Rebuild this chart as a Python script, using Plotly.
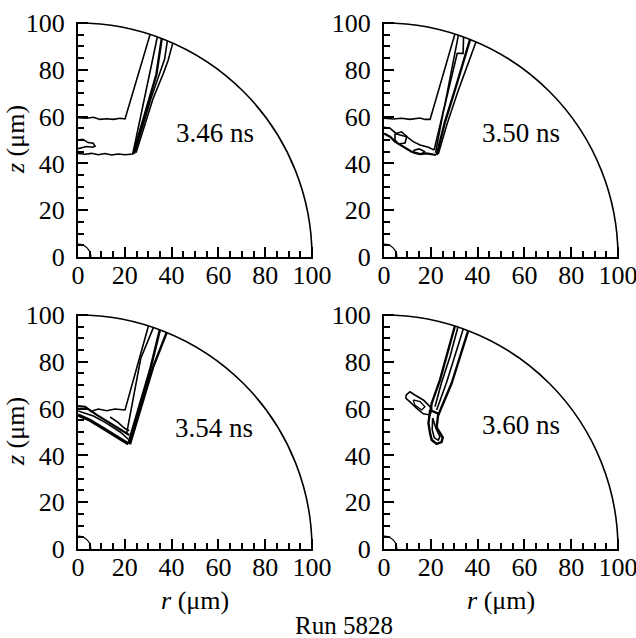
import plotly.graph_objects as go

W, H = 636, 638

# ---------------- data ----------------
tick_vals = [0, 20, 40, 60, 80, 100]
tick_text = ["0", "20", "40", "60", "80", "100"]

panel_times = ["3.46 ns", "3.50 ns", "3.54 ns", "3.60 ns"]
label_r = [58.4, 58.4, 58.3, 58.4]
label_z = [53.0, 52.8, 51.6, 53.0]

boundary_radius = 100
core_radius = 5.5

# 3.46 ns contours (r, z in um)
t346_upper_r = [0, 3.6, 6.6, 9.4, 12.3, 15.1, 17.9, 20.1, 30.8]
t346_upper_z = [59.5, 59.3, 59.7, 58.8, 59.1, 58.8, 59.3, 59.0, 95.1]
t346_lower_r = [0, 3.0, 5.8, 8.7, 11.5, 14.4, 17.2, 20.1, 23.4, 33.9]
t346_lower_z = [44.3, 43.9, 44.3, 43.7, 44.2, 43.6, 44.0, 43.7, 44.0, 94.0]
t346_band_b_r = [23.6, 30.8, 33.5, 35.8]
t346_band_b_z = [44.0, 68.2, 78.0, 93.4]
t346_band_c_r = [24.2, 31.4, 34.2, 35.5, 37.0, 38.2]
t346_band_c_z = [44.2, 68.5, 76.5, 80.5, 84.5, 92.5]
t346_band_d_r = [24.8, 32.2, 36.5, 38.5, 40.5]
t346_band_d_z = [44.6, 68.0, 78.5, 84.0, 91.4]
t346_blob_r = [0, 2.1, 4.3, 6.5, 7.3, 6.3, 3.7, 1.6, 0]
t346_blob_z = [50.0, 50.3, 48.9, 48.6, 47.4, 46.9, 47.2, 46.5, 46.3]

# 3.50 ns contours
t350_upper_r = [0, 4.0, 7.5, 11.1, 15.4, 17.5, 19.7, 30.3]
t350_upper_z = [59.3, 59.0, 59.3, 58.8, 59.4, 58.8, 58.8, 95.3]
t350_band_a_r = [21.4, 26.0, 31.8]
t350_band_a_z = [45.7, 65.0, 94.8]
t350_band_b_r = [22.0, 25.3, 31.3, 33.8, 34.0]
t350_band_b_z = [44.5, 61.8, 87.0, 87.0, 94.0]
t350_band_c_r = [22.5, 26.0, 30.5, 33.5, 36.8]
t350_band_c_z = [43.6, 57.5, 72.0, 82.0, 93.0]
t350_band_d_r = [23.2, 27.0, 31.5, 35.5, 39.3]
t350_band_d_z = [44.0, 57.0, 70.5, 81.5, 91.9]
t350_lower_a_r = [0, 2.6, 5.4, 9.7, 12.5, 15.4, 19.0, 21.4]
t350_lower_a_z = [55.4, 55.0, 52.6, 51.4, 49.3, 47.9, 46.9, 45.7]
t350_lower_b_r = [0, 2.6, 4.7, 8.3, 11.8, 15.4, 18.2, 22.2]
t350_lower_b_z = [52.8, 51.4, 49.3, 47.2, 45.0, 44.0, 44.3, 43.6]
t350_loop_r = [4.7, 7.5, 9.7, 9.0, 6.1, 4.7, 4.7]
t350_loop_z = [52.7, 53.5, 51.6, 48.7, 48.3, 50.1, 52.7]
t350_small_loop_r = [12.5, 15.0, 17.5, 16.0, 13.0, 12.5]
t350_small_loop_z = [45.5, 46.2, 45.0, 44.0, 44.3, 45.5]

# 3.54 ns contours
t354_upper_r = [5.1, 8.7, 12.3, 15.8, 20.1, 30.1]
t354_upper_z = [58.7, 59.8, 59.1, 59.8, 59.4, 95.3]
t354_th1_r = [0, 3.0, 8.0, 13.7, 19.4, 21.9]
t354_th1_z = [61.1, 60.8, 57.3, 53.7, 50.1, 48.7]
t354_th2_r = [0, 5.0, 10.8, 16.5, 21.5]
t354_th2_z = [57.3, 55.1, 51.6, 48.0, 44.9]
t354_th3_r = [0, 6.6, 12.3, 18.0, 21.5]
t354_th3_z = [59.0, 56.8, 53.7, 50.0, 46.9]
t354_inner_r = [13.7, 17.1, 19.9, 21.9]
t354_inner_z = [56.4, 54.1, 51.6, 50.5]
t354_b2_r = [20.8, 26.8, 32.2]
t354_b2_z = [49.4, 81.4, 94.6]
t354_b3_r = [21.5, 30.8, 35.0]
t354_b3_z = [44.9, 76.5, 93.7]
t354_b4_r = [22.2, 32.2, 37.9]
t354_b4_z = [44.7, 78.0, 92.5]

# 3.60 ns contours
t360_d1_r = [30.3, 26.8, 23.9, 20.4, 19.7]
t360_d1_z = [95.3, 82.2, 72.2, 62.3, 58.0]
t360_d2_r = [31.6, 28.2, 24.5, 21.8]
t360_d2_z = [94.9, 82.2, 70.8, 60.8]
t360_d3_r = [33.9, 30.3, 26.8, 22.5]
t360_d3_z = [94.1, 82.9, 71.4, 59.4]
t360_d4_r = [36.0, 32.5, 28.9, 23.2]
t360_d4_z = [93.3, 82.2, 70.8, 57.3]
t360_blob_r = [19.7, 19.0, 19.7, 20.4, 22.5, 24.6, 25.1, 22.5, 23.2, 19.7]
t360_blob_z = [59.4, 53.7, 49.4, 46.6, 44.9, 45.7, 47.7, 52.0, 57.8, 59.4]
t360_blob_inner_r = [20.8, 20.6, 21.5, 23.2, 23.9, 22.2, 20.8]
t360_blob_inner_z = [56.0, 51.0, 47.5, 46.5, 48.0, 51.5, 56.0]
t360_loop_r = [9.4, 11.1, 13.2, 16.8, 20.4, 19.7, 16.8, 14.0, 11.1, 9.4, 9.4]
t360_loop_z = [65.8, 67.2, 65.8, 63.7, 60.1, 57.3, 57.8, 60.1, 62.9, 64.4, 65.8]
t360_loop_inner_r = [12.5, 15.4, 17.5, 16.1, 13.2, 12.5]
t360_loop_inner_z = [63.7, 63.0, 60.8, 59.4, 61.5, 63.7]

panels = [
    [(t346_upper_r, t346_upper_z, 1.6), (t346_lower_r, t346_lower_z, 1.6),
     (t346_band_b_r, t346_band_b_z, 2.4), (t346_band_c_r, t346_band_c_z, 1.6),
     (t346_band_d_r, t346_band_d_z, 1.6), (t346_blob_r, t346_blob_z, 1.6)],
    [(t350_upper_r, t350_upper_z, 1.6), (t350_band_a_r, t350_band_a_z, 1.6),
     (t350_band_b_r, t350_band_b_z, 1.6), (t350_band_c_r, t350_band_c_z, 2.4),
     (t350_band_d_r, t350_band_d_z, 1.6), (t350_lower_a_r, t350_lower_a_z, 1.6),
     (t350_lower_b_r, t350_lower_b_z, 2.2), (t350_loop_r, t350_loop_z, 1.6),
     (t350_small_loop_r, t350_small_loop_z, 1.6)],
    [(t354_upper_r, t354_upper_z, 1.6), (t354_th1_r, t354_th1_z, 2.2),
     (t354_th2_r, t354_th2_z, 3.2), (t354_th3_r, t354_th3_z, 1.6),
     (t354_inner_r, t354_inner_z, 1.6), (t354_b2_r, t354_b2_z, 1.6),
     (t354_b3_r, t354_b3_z, 2.6), (t354_b4_r, t354_b4_z, 2.4)],
    [(t360_d1_r, t360_d1_z, 2.4), (t360_d2_r, t360_d2_z, 1.6),
     (t360_d3_r, t360_d3_z, 1.6), (t360_d4_r, t360_d4_z, 2.4),
     (t360_blob_r, t360_blob_z, 2.4), (t360_blob_inner_r, t360_blob_inner_z, 1.6),
     (t360_loop_r, t360_loop_z, 1.6), (t360_loop_inner_r, t360_loop_inner_z, 1.3)],
]

# ---------------- figure ----------------
FONT = "Liberation Serif, Times New Roman, serif"
fig = go.Figure()

axis_ids = [("x", "y"), ("x2", "y2"), ("x3", "y3"), ("x4", "y4")]
for (xa, ya), lines in zip(axis_ids, panels):
    for r, z, w in lines:
        fig.add_trace(go.Scatter(x=r, y=z, mode="lines", xaxis=xa, yaxis=ya,
                                 line=dict(color="black", width=w),
                                 showlegend=False, hoverinfo="skip"))

RMAX = 100.6
xdom_left = [78 / W, (78 + 2.34 * RMAX) / W]
xdom_right = [384 / W, (384 + 2.34 * RMAX) / W]
ydom_top = [(H - 257) / H, (H - 257 + 2.34 * RMAX) / H]
ydom_bot = [(H - 549) / H, (H - 549 + 2.34 * RMAX) / H]


def ax(domain, anchor, standoff):
    return dict(domain=domain, anchor=anchor, range=[0, RMAX],
                automargin=False, ticklabeloverflow="allow",
                showline=True, linecolor="black", linewidth=2, mirror=False,
                showgrid=False, zeroline=False,
                ticks="inside", ticklen=10, tickwidth=1.5, tickcolor="black",
                tickvals=tick_vals, ticktext=tick_text,
                minor=dict(ticks="inside", ticklen=6, tickwidth=1.5,
                           tickcolor="black", dtick=5, tick0=0, showgrid=False),
                tickfont=dict(family=FONT, size=26, color="black"),
                ticklabelstandoff=standoff, fixedrange=True)


doms = [(xdom_left, ydom_top), (xdom_right, ydom_top),
        (xdom_left, ydom_bot), (xdom_right, ydom_bot)]
layout = dict(width=W, height=H, margin=dict(l=0, r=0, t=0, b=0),
              paper_bgcolor="white", plot_bgcolor="white", showlegend=False)
shapes = []
annotations = []
for i, ((xa, ya), (xd, yd)) in enumerate(zip(axis_ids, doms)):
    xk = "xaxis" if xa == "x" else "xaxis" + xa[1:]
    yk = "yaxis" if ya == "y" else "yaxis" + ya[1:]
    layout[xk] = ax(xd, ya, -6)
    layout[yk] = ax(yd, xa, 6)
    for rad, wid in ((boundary_radius, 1.6), (core_radius, 1.2)):
        shapes.append(dict(type="circle", xref=xa, yref=ya,
                           x0=-rad, y0=-rad, x1=rad, y1=rad,
                           line=dict(color="black", width=wid)))
    annotations.append(dict(text=panel_times[i], x=label_r[i], y=label_z[i],
                            xref=xa, yref=ya, showarrow=False,
                            font=dict(family=FONT, size=27, color="black")))

# axis titles
for yc in (140, 432):
    annotations.append(dict(text="<i>z</i> (μm)", x=15 / W, y=(H - yc) / H,
                            xref="paper", yref="paper", showarrow=False,
                            textangle=-90, xanchor="center", yanchor="middle",
                            font=dict(family=FONT, size=26, color="black")))
for xc in (195, 501):
    annotations.append(dict(text="<i>r</i> (μm)", x=xc / W, y=(H - 600) / H,
                            xref="paper", yref="paper", showarrow=False,
                            xanchor="center", yanchor="middle",
                            font=dict(family=FONT, size=26, color="black")))
annotations.append(dict(text="Run 5828", x=344 / W, y=(H - 625) / H,
                        xref="paper", yref="paper", showarrow=False,
                        xanchor="center", yanchor="middle",
                        font=dict(family=FONT, size=25, color="black")))

layout["shapes"] = shapes
layout["annotations"] = annotations
fig.update_layout(**layout)
fig.write_html("out.html")
